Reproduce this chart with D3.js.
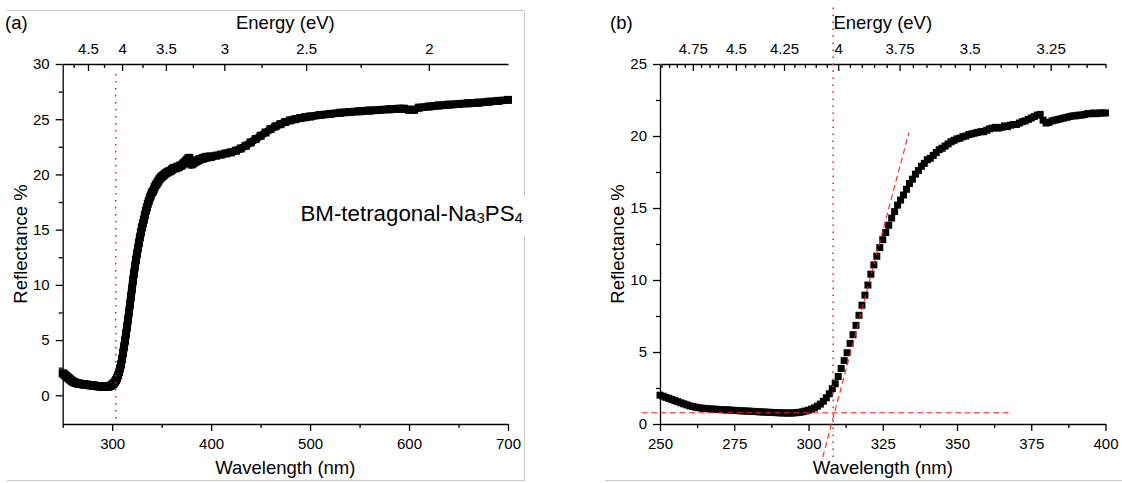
<!DOCTYPE html>
<html><head><meta charset="utf-8">
<script src="https://cdn.jsdelivr.net/npm/d3@7"></script>
<style>
html,body{margin:0;padding:0;background:#fff;}
svg{display:block;font-family:"Liberation Sans",Arial,Helvetica,sans-serif;}
</style></head><body>
<svg id="chart" width="1122" height="483"></svg>
<script>
// ---------- DATA ----------
// Reflectance % at 1 nm steps, 250..400 nm
const startNm = 250;
const reflFine = [
 2.00,1.93,1.85,1.78,1.70,1.62,1.55,1.47,1.40,1.33,
 1.26,1.21,1.17,1.13,1.10,1.08,1.06,1.04,1.03,1.02,
 1.00,0.99,0.98,0.97,0.96,0.95,0.93,0.92,0.91,0.90,
 0.89,0.88,0.87,0.85,0.84,0.83,0.82,0.81,0.80,0.79,
 0.78,0.77,0.77,0.76,0.76,0.77,0.79,0.81,0.85,0.90,
 0.96,1.03,1.12,1.24,1.38,1.58,1.82,2.10,2.45,2.80,
 3.30,3.85,4.40,4.95,5.60,6.20,6.85,7.55,8.25,8.95,
 9.65,10.40,11.05,11.65,12.25,12.80,13.30,13.80,14.30,14.75,
 15.20,15.55,15.90,16.30,16.70,17.00,17.35,17.60,17.90,18.10,
 18.35,18.45,18.65,18.85,19.05,19.15,19.30,19.45,19.60,19.70,
 19.80,19.85,19.95,20.00,20.10,20.15,20.20,20.25,20.30,20.30,
 20.40,20.50,20.55,20.60,20.55,20.60,20.70,20.65,20.75,20.80,
 20.80,20.90,21.00,21.05,21.15,21.25,21.35,21.45,21.50,21.10,
 20.90,20.95,21.05,21.10,21.15,21.20,21.25,21.30,21.35,21.40,
 21.40,21.45,21.45,21.50,21.55,21.55,21.60,21.55,21.60,21.60,
 21.60];
// Panel a continuation beyond 400 nm
const wavelengthExt = [405,410,415,420,425,430,435,440,445,450,455,460,465,470,475,480,485,490,495,500,
  510,520,530,540,550,560,570,580,590,595,600,605,610,620,630,640,650,660,670,680,690,700];
const reflExt = [21.70,21.80,21.90,22.00,22.15,22.35,22.60,22.90,23.20,23.50,23.80,24.10,24.35,24.55,24.75,24.90,25.00,25.10,25.18,25.25,
  25.38,25.48,25.58,25.65,25.72,25.78,25.84,25.90,25.95,25.95,25.85,25.85,26.05,26.15,26.25,26.32,26.38,26.44,26.50,26.58,26.66,26.75];

// ticks
const nmMajorA = [300,400,500,600,700];
const nmMinorA = [250,350,450,550,650];
const nmMajorB = [250,275,300,325,350,375,400];
const nmMinorB = [262.5,287.5,312.5,337.5,362.5,387.5];
const refMajorA = [0,5,10,15,20,25,30];
const refMinorA = [2.5,7.5,12.5,17.5,22.5,27.5];
const refMajorB = [0,5,10,15,20,25];
const refMinorB = [2.5,7.5,12.5,17.5,22.5];
const energyMajorA = [4.5,4,3.5,3,2.5,2];
const energyMinorA = [4.75,4.25,3.75,3.25,2.75,2.25];
const energyMajorB = [4.75,4.5,4.25,4,3.75,3.5,3.25];
const energyMinorB = [4.95,4.9,4.85,4.8,4.7,4.65,4.6,4.55,4.45,4.4,4.35,4.3,4.2,4.15,4.1,4.05,
  3.95,3.9,3.85,3.8,3.7,3.65,3.6,3.55,3.45,3.4,3.35,3.3,3.2,3.15,3.1];

// annotations (data coordinates)
const edgeA = {nm:303.6, r0:-2.1, r1:29.4};
const edgeB = {nm:308.3, r0:-2.3, r1:29.1};
const tangentB = [[304.8,-2.3],[333.8,20.24]];
const baselineB = [[243.8,0.78],[367.8,0.78]];

const HC = 1240; // eV*nm

// ---------- BUILD ----------
const fine = reflFine.map((r,i)=>({nm:startNm+i, r}));
const dataA = fine.concat(wavelengthExt.map((w,i)=>({nm:w, r:reflExt[i]})));
const dataB = fine;

const svg = d3.select("#chart");
const fmtE = e => String(+e.toFixed(2));
const FS_TICK = 15, FS_TITLE = 18.5;

function styleAxis(g){
  g.selectAll("path.domain").attr("stroke","#000").attr("stroke-width",1.3);
  g.selectAll(".tick line").attr("stroke","#000").attr("stroke-width",1.3);
  g.selectAll(".tick text").attr("font-size",FS_TICK).attr("fill","#000")
    .attr("font-family",'"Liberation Sans",Arial,sans-serif');
}

function panel(opts){
  const {x,y,data,markerSize,lineWidth,energyMajor,energyMinor,nmMajor,nmMinor,refMajor,refMinor,label,labelX} = opts;
  const g = svg.append("g");
  const [x0,x1] = x.range(); const [yb,yt] = y.range();
  // bottom
  g.append("g").attr("transform",`translate(0,${yb})`)
    .call(d3.axisBottom(x).tickValues(nmMinor).tickSize(4).tickFormat("").tickSizeOuter(0))
    .call(s=>s.select("path.domain").remove()).call(styleAxis);
  g.append("g").attr("transform",`translate(0,${yb})`)
    .call(d3.axisBottom(x).tickValues(nmMajor).tickSize(7).tickPadding(7).tickSizeOuter(0).tickFormat(d3.format("d")))
    .call(styleAxis);
  // left
  g.append("g").attr("transform",`translate(${x0},0)`)
    .call(d3.axisLeft(y).tickValues(refMinor).tickSize(4).tickFormat("").tickSizeOuter(0))
    .call(s=>s.select("path.domain").remove()).call(styleAxis);
  g.append("g").attr("transform",`translate(${x0},0)`)
    .call(d3.axisLeft(y).tickValues(refMajor).tickSize(7).tickPadding(6).tickSizeOuter(0).tickFormat(d3.format("d")))
    .call(styleAxis);
  // top (energy)
  g.append("g").attr("transform",`translate(0,${yt})`)
    .call(d3.axisTop(x).tickValues(energyMinor.map(e=>HC/e)).tickSize(-4).tickFormat("").tickSizeOuter(0))
    .call(s=>s.select("path.domain").remove()).call(styleAxis);
  g.append("g").attr("transform",`translate(0,${yt})`)
    .call(d3.axisTop(x).tickValues(energyMajor.map(e=>HC/e)).tickSize(-7).tickPadding(10).tickSizeOuter(0)
      .tickFormat(d=>fmtE(HC/d)))
    .call(styleAxis);
  // titles
  const cx = (x0+x1)/2, cy=(yb+yt)/2;
  g.append("text").attr("x",cx).attr("y",474).attr("text-anchor","middle").attr("font-size",FS_TITLE).text("Wavelength (nm)");
  g.append("text").attr("x",cx).attr("y",28.5).attr("text-anchor","middle").attr("font-size",FS_TITLE).text("Energy (eV)");
  g.append("text").attr("transform",`translate(${x0-36},${cy}) rotate(-90)`).attr("text-anchor","middle")
    .attr("font-size",FS_TITLE).text("Reflectance %");
  g.append("text").attr("x",labelX).attr("y",29).attr("font-size",FS_TITLE).text(label);
  // data
  if(lineWidth){
    g.append("path").datum(data).attr("fill","none").attr("stroke","#000").attr("stroke-width",lineWidth)
      .attr("stroke-linejoin","round").attr("d",d3.line().x(d=>x(d.nm)).y(d=>y(d.r)));
  }
  g.append("g").selectAll("rect").data(data).join("rect")
    .attr("x",d=>x(d.nm)-markerSize/2).attr("y",d=>y(d.r)-markerSize/2)
    .attr("width",markerSize).attr("height",markerSize).attr("fill","#000");
  return g;
}

// frames
const frame = svg.append("g").attr("stroke","#c9c9c9").attr("stroke-width",1).attr("fill","none");
frame.append("path").attr("d","M7,10.5H524.5V480.5H7");
frame.append("path").attr("d","M605,480.5H1122");

// Panel a
const xA = d3.scaleLinear().domain([250,700]).range([62.7,508]);
const yA = d3.scaleLinear().domain([-2.6,30]).range([424,64]);
const gA = panel({x:xA,y:yA,data:dataA,markerSize:8,lineWidth:8,energyMajor:energyMajorA,energyMinor:energyMinorA,
  nmMajor:nmMajorA,nmMinor:nmMinorA,refMajor:refMajorA,refMinor:refMinorA,label:"(a)",labelX:5});
gA.append("line").attr("x1",xA(edgeA.nm)).attr("x2",xA(edgeA.nm)).attr("y1",yA(edgeA.r0)).attr("y2",yA(edgeA.r1))
  .attr("stroke","#ff2020").attr("stroke-width",1.6).attr("stroke-dasharray","1.6,5.4");
// sample label
const lab = gA.append("g");
lab.append("rect").attr("x",297).attr("y",197).attr("width",232).attr("height",39).attr("fill","#fff");
const t = lab.append("text").attr("x",300.5).attr("y",221).attr("font-size",22.3).attr("fill","#000");
t.append("tspan").text("BM-tetragonal-Na");
t.append("tspan").attr("font-size",15).attr("dy",1.5).text("3");
t.append("tspan").attr("dy",-1.5).text("PS");
t.append("tspan").attr("font-size",15).attr("dy",1.5).text("4");

// Panel b
const xB = d3.scaleLinear().domain([250,400]).range([660,1105.5]);
const yB = d3.scaleLinear().domain([0,25]).range([424,64]);
const gB = panel({x:xB,y:yB,data:dataB,markerSize:7,lineWidth:0,energyMajor:energyMajorB,energyMinor:energyMinorB,
  nmMajor:nmMajorB,nmMinor:nmMinorB,refMajor:refMajorB,refMinor:refMinorB,label:"(b)",labelX:610});
gB.append("line").attr("x1",xB(edgeB.nm)).attr("x2",xB(edgeB.nm)).attr("y1",yB(edgeB.r0)).attr("y2",yB(edgeB.r1))
  .attr("stroke","#ff2020").attr("stroke-width",1.6).attr("stroke-dasharray","1.6,5.4");
const lineGen = d3.line().x(d=>xB(d[0])).y(d=>yB(d[1]));
gB.append("path").datum(tangentB).attr("d",lineGen).attr("fill","none").attr("stroke","#ff2020")
  .attr("stroke-width",1.1).attr("stroke-dasharray","6,3.5");
gB.append("path").datum(baselineB).attr("d",lineGen).attr("fill","none").attr("stroke","#ff2020")
  .attr("stroke-width",1.1).attr("stroke-dasharray","6,3.5");
</script>
</body></html>
